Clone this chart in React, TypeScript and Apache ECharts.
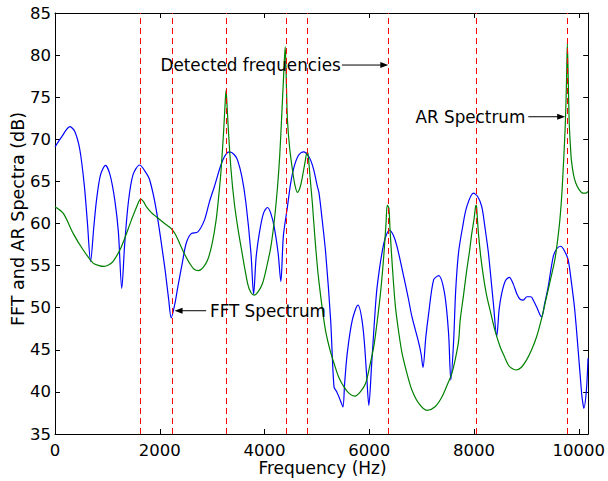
import React, { useEffect, useRef } from "react";
import * as echarts from "echarts";

// FFT spectrum (blue)
const fftFreq = [0, 127, 285, 380, 476, 560, 620, 679, 740, 793, 870, 964, 1050, 1141, 1210, 1275, 1330, 1400, 1490, 1617, 1720, 1807, 1934, 2093, 2170, 2219, 2290, 2346, 2430, 2505, 2600, 2727, 2853, 2950, 3044, 3202, 3329, 3420, 3487, 3570, 3646, 3741, 3792, 3840, 3900, 3980, 4058, 4120, 4185, 4260, 4312, 4360, 4438, 4500, 4566, 4650, 4743, 4851, 4930, 5009, 5041, 5100, 5168, 5263, 5327, 5380, 5422, 5460, 5498, 5530, 5580, 5675, 5783, 5878, 5948, 5992, 6043, 6100, 6151, 6278, 6386, 6460, 6531, 6658, 6740, 6816, 6930, 6990, 7026, 7080, 7134, 7229, 7324, 7438, 7514, 7558, 7609, 7650, 7704, 7780, 7862, 7990, 8070, 8148, 8210, 8275, 8370, 8434, 8480, 8529, 8600, 8675, 8750, 8814, 8880, 8941, 9010, 9087, 9140, 9195, 9290, 9350, 9417, 9512, 9580, 9658, 9730, 9797, 9860, 9924, 10019, 10060, 10080, 10096, 10146, 10177];
const fftDb = [69.1, 70.3, 71.5, 70.9, 68.7, 64.5, 60.0, 55.5, 59.5, 62.8, 65.8, 66.9, 65.8, 62.8, 59.0, 52.3, 57.5, 62.5, 65.8, 66.95, 66.2, 65.2, 61.6, 54.9, 51.0, 48.8, 50.5, 52.5, 55.3, 57.65, 58.8, 59.0, 60.4, 62.6, 64.4, 67.5, 68.5, 68.2, 67.5, 65.5, 62.4, 56.5, 51.6, 56.0, 58.8, 61.2, 61.9, 61.2, 59.6, 56.5, 53.1, 58.5, 62.0, 64.8, 66.75, 68.1, 68.5, 67.9, 66.6, 64.4, 63.6, 60.5, 56.5, 48.5, 40.6, 40.0, 39.4, 38.8, 38.2, 41.0, 44.6, 48.5, 50.3, 47.75, 42.2, 38.4, 43.0, 48.5, 52.5, 57.65, 59.2, 58.6, 57.25, 53.7, 51.3, 48.9, 46.2, 44.5, 42.9, 46.5, 49.3, 53.3, 53.8, 51.7, 47.0, 41.4, 45.8, 52.0, 56.5, 59.5, 62.0, 63.6, 63.2, 62.0, 59.5, 56.5, 50.5, 46.6, 49.8, 51.7, 53.2, 53.6, 52.8, 51.7, 51.0, 50.9, 51.3, 51.3, 50.8, 50.1, 48.9, 50.5, 52.5, 56.05, 57.0, 57.3, 56.7, 55.7, 53.0, 49.7, 42.6, 39.5, 38.6, 38.05, 40.2, 44.0];

// AR spectrum (green)
const arFreq = [0, 159, 349, 539, 729, 838, 938, 1030, 1110, 1268, 1458, 1560, 1636, 1690, 1744, 1840, 1934, 2093, 2219, 2300, 2378, 2470, 2568, 2650, 2739, 2830, 2916, 3000, 3076, 3130, 3171, 3221, 3246, 3266, 3285, 3310, 3361, 3424, 3490, 3551, 3677, 3740, 3805, 3880, 3963, 4040, 4122, 4190, 4249, 4290, 4325, 4365, 4395, 4420, 4438, 4480, 4534, 4580, 4629, 4680, 4724, 4780, 4810, 4830, 4870, 4914, 4960, 5009, 5041, 5105, 5168, 5250, 5327, 5420, 5517, 5620, 5726, 5829, 5929, 6000, 6087, 6150, 6214, 6260, 6290, 6320, 6345, 6375, 6395, 6424, 6460, 6500, 6560, 6626, 6720, 6816, 6950, 7103, 7250, 7387, 7500, 7577, 7640, 7705, 7736, 7800, 7862, 7910, 7957, 8000, 8030, 8045, 8060, 8085, 8130, 8180, 8240, 8307, 8400, 8497, 8580, 8655, 8720, 8802, 8900, 9004, 9100, 9195, 9290, 9385, 9470, 9544, 9600, 9639, 9675, 9702, 9725, 9746, 9765, 9782, 9800, 9816, 9838, 9860, 9900, 9943, 10010, 10082, 10130, 10177];
const arDb = [62.0, 61.2, 58.8, 56.85, 55.3, 55.0, 54.9, 55.1, 55.5, 57.25, 60.4, 62.0, 62.9, 62.6, 62.0, 61.3, 60.8, 60.0, 59.4, 58.7, 57.65, 56.4, 55.3, 54.6, 54.4, 54.8, 55.7, 57.6, 60.4, 63.5, 66.35, 71.1, 74.0, 75.85, 74.0, 71.1, 66.35, 62.4, 59.5, 57.25, 52.9, 51.8, 51.5, 51.9, 52.9, 54.8, 57.25, 60.5, 64.4, 68.0, 72.3, 77.5, 81.0, 76.0, 72.3, 69.0, 66.35, 64.6, 63.7, 64.3, 65.55, 67.5, 68.4, 68.3, 65.5, 62.4, 58.5, 54.9, 53.0, 49.8, 47.2, 45.0, 43.4, 41.7, 40.6, 39.8, 39.5, 40.0, 41.0, 42.8, 45.4, 48.3, 51.7, 54.8, 57.25, 60.0, 62.2, 61.8, 59.5, 56.5, 53.2, 50.1, 47.2, 44.6, 42.2, 40.2, 38.6, 37.8, 38.2, 39.4, 41.0, 42.2, 43.8, 46.0, 48.5, 51.5, 54.5, 56.5, 58.8, 60.5, 62.0, 62.2, 61.0, 58.8, 56.0, 53.7, 51.5, 49.7, 47.3, 45.4, 44.2, 43.2, 42.8, 42.6, 42.9, 43.8, 45.0, 46.55, 48.7, 51.3, 53.6, 55.7, 58.2, 60.4, 63.3, 66.35, 69.2, 72.3, 76.5, 81.4, 77.0, 72.3, 69.5, 67.5, 65.8, 64.8, 64.0, 63.6, 63.6, 63.8];

// Detected frequencies (red dashed lines)
const detectedFreqs = [1623, 2232, 3266, 4408, 4820, 6367, 8041, 9778];

// Axis settings
const xMin = 0;
const xMax = 10180;
const xStep = 2000;
const yMin = 35;
const yMax = 85;
const yStep = 5;

export default function App() {
  const ref = useRef<HTMLDivElement>(null);
  useEffect(() => {
    const chart = echarts.init(ref.current!, null, { renderer: "svg" });
    const font = "'DejaVu Sans', sans-serif";
    const boxAxis = {
      axisLine: { show: true, onZero: false, lineStyle: { color: "#000", width: 1 } },
      axisTick: { show: true, inside: true, length: 5, lineStyle: { color: "#000", width: 1 } },
      splitLine: { show: false },
    };
    const arrow = (x1: number, x2: number, y: number, rot: number) => ({
      type: "line",
      xAxisIndex: 0,
      yAxisIndex: 0,
      silent: true,
      z: 5,
      color: "#000",
      lineStyle: { color: "#000", width: 1 },
      itemStyle: { color: "#000" },
      showSymbol: true,
      data: [
        { value: [x1, y], symbol: "none" },
        { value: [x2, y], symbol: "triangle", symbolSize: [6, 8], symbolRotate: rot },
      ],
    });
    const textStyle = (text: string, size: number) => ({
      text,
      fontSize: size,
      fontFamily: font,
      fill: "#000",
      textAlign: "left",
      textVerticalAlign: "middle",
    });
    chart.setOption({
      animation: false,
      backgroundColor: "#fff",
      grid: { left: 55, right: 18, top: 13, bottom: 47 },
      xAxis: [
        {
          type: "value",
          min: xMin,
          max: xMax,
          interval: xStep,
          position: "bottom",
          ...boxAxis,
          axisLabel: {
            color: "#000",
            fontSize: 16.5,
            fontFamily: font,
            margin: 8,
            formatter: (v: number) => (v % xStep === 0 ? String(v) : ""),
          },
        },
        {
          type: "value",
          min: xMin,
          max: xMax,
          interval: xStep,
          position: "top",
          ...boxAxis,
          axisLabel: { show: false },
        },
      ],
      yAxis: [
        {
          type: "value",
          min: yMin,
          max: yMax,
          interval: yStep,
          position: "left",
          ...boxAxis,
          axisLabel: { color: "#000", fontSize: 16.5, fontFamily: font, margin: 4 },
        },
        {
          type: "value",
          min: yMin,
          max: yMax,
          interval: yStep,
          position: "right",
          ...boxAxis,
          axisLabel: { show: false },
        },
      ],
      graphic: [
        {
          type: "text",
          x: 322.5,
          y: 468,
          style: { ...textStyle("Frequency (Hz)", 17), textAlign: "center" },
        },
        {
          type: "text",
          x: 18,
          y: 219,
          rotation: Math.PI / 2,
          style: { ...textStyle("FFT and AR Spectra (dB)", 17.5), textAlign: "center" },
        },
        { type: "text", x: 160.5, y: 65, z: 10, style: textStyle("Detected frequencies", 16.8) },
        { type: "text", x: 415.5, y: 116.7, z: 10, style: textStyle("AR Spectrum", 16.8) },
        { type: "text", x: 210, y: 310.7, z: 10, style: textStyle("FFT Spectrum", 16.8) },
      ],
      series: [
        {
          type: "line",
          name: "FFT",
          data: fftFreq.map((f, i) => [f, fftDb[i]]),
          showSymbol: false,
          smooth: 0.3,
          silent: true,
          color: "#0000ff",
          lineStyle: { color: "#0000ff", width: 1.2 },
          z: 2,
        },
        {
          type: "line",
          name: "AR",
          data: arFreq.map((f, i) => [f, arDb[i]]),
          showSymbol: false,
          smooth: 0.3,
          silent: true,
          color: "#008000",
          lineStyle: { color: "#008000", width: 1.2 },
          z: 3,
          markLine: {
            silent: true,
            symbol: "none",
            animation: false,
            label: { show: false },
            emphasis: { disabled: true },
            lineStyle: { color: "#ff0000", width: 1, type: [6, 4], opacity: 1 },
            data: detectedFreqs.map((f) => ({ xAxis: f })),
          },
        },
        arrow(5479, 6287, 78.82, -90),
        arrow(9036, 9664, 72.68, -90),
        arrow(2886, 2359, 49.64, 90),
      ],
    });
    return () => chart.dispose();
  }, []);
  return <div ref={ref} style={{ position: "fixed", left: 0, top: 0, width: 608, height: 481 }} />;
}
